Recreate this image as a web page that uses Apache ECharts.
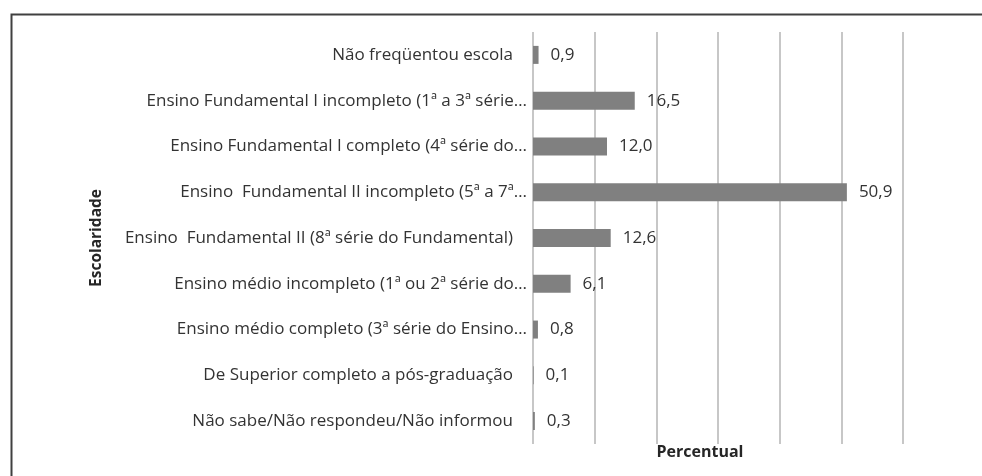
<!DOCTYPE html>
<html>
<head>
<meta charset="utf-8">
<script src="https://cdn.jsdelivr.net/npm/echarts@6/dist/echarts.min.js"></script>
<style>
html,body{margin:0;padding:0;background:#fff;}
#c{width:982px;height:476px;}
</style>
</head>
<body>
<div id="c"></div>
<script>
const categories = [
  "Não freqüentou escola",
  "Ensino Fundamental I incompleto (1ª a 3ª série…",
  "Ensino Fundamental I completo (4ª série do…",
  "Ensino  Fundamental II incompleto (5ª a 7ª…",
  "Ensino  Fundamental II (8ª série do Fundamental)",
  "Ensino médio incompleto (1ª ou 2ª série do…",
  "Ensino médio completo (3ª série do Ensino…",
  "De Superior completo a pós-graduação",
  "Não sabe/Não respondeu/Não informou"
];
const values = [0.9, 16.5, 12.0, 50.9, 12.6, 6.1, 0.8, 0.1, 0.3];
const xAxisName = "Percentual";
const yAxisName = "Escolaridade";

const font = "'Open Sans', 'Noto Sans', sans-serif";
const chart = echarts.init(document.getElementById('c'), null, {renderer: 'canvas'});
chart.setOption({
  animation: false,
  backgroundColor: '#ffffff',
  graphic: [{
    type: 'rect', left: 9, top: 12, z: -1,
    shape: {x: 0, y: 0, width: 1000, height: 500},
    style: {fill: 'none', stroke: '#404040', lineWidth: 2}
  }],
  grid: {left: 533, right: 79, top: 32, bottom: 32, containLabel: false},
  xAxis: {
    type: 'value', min: 0, max: 60, interval: 10,
    axisLabel: {show: false}, axisTick: {show: false}, axisLine: {show: false},
    splitLine: {show: true, lineStyle: {color: '#b5b5b5', width: 1.5}},
    name: xAxisName, nameLocation: 'middle', nameGap: 0,
    nameTextStyle: {fontFamily: font, fontWeight: 'bold', fontSize: 16, color: '#262626', padding: [0, 36, 0, 0]}
  },
  yAxis: {
    type: 'category', data: categories, inverse: true,
    axisLine: {show: false}, axisTick: {show: false},
    axisLabel: {
      fontFamily: font, fontSize: 17, color: '#333333', margin: 6,
      formatter: v => v.endsWith('…') ? '{e|' + v + '}' : '{f|' + v + '}',
      rich: {
        e: {fontFamily: font, fontSize: 17, color: '#333333'},
        f: {fontFamily: font, fontSize: 17, color: '#333333', padding: [0, 14, 0, 0]}
      }
    },
    name: yAxisName, nameLocation: 'middle', nameGap: 428, nameRotate: 90,
    nameTextStyle: {fontFamily: font, fontWeight: 'bold', fontSize: 15.5, color: '#262626'}
  },
  series: [{
    type: 'bar', data: values, barWidth: 18,
    itemStyle: {color: '#808080'},
    label: {
      show: true, position: 'right', distance: 12,
      fontFamily: font, fontSize: 17, color: '#333333',
      formatter: p => p.value.toFixed(1).replace('.', ',')
    }
  }]
});
</script>
</body>
</html>
